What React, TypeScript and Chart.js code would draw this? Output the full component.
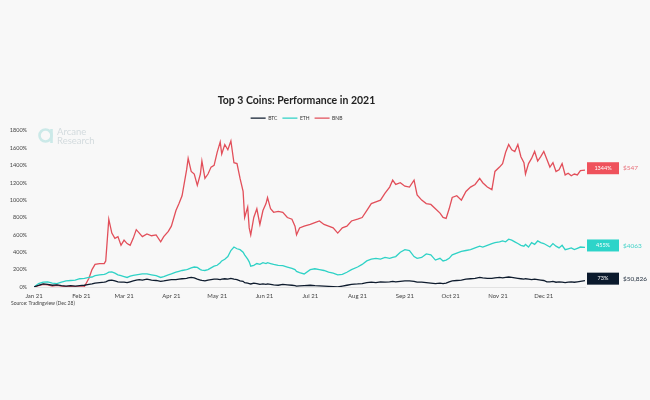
import React, { useEffect, useRef } from 'react';
import { Chart, registerables } from 'chart.js';

Chart.register(...registerables);

// Day offsets from Jan 1, 2021
const days = [
  0, 3, 6, 9, 12, 15, 18, 21, 24, 27,
  30, 33, 36, 38, 40, 43, 46, 47, 49, 51,
  53, 55, 57, 59, 61, 63, 65, 67, 69, 71,
  74, 77, 80, 83, 85, 88, 90, 93, 95, 97,
  100, 101, 103, 105, 107, 109, 110, 112, 114, 116,
  118, 120, 122, 123, 125, 127, 129, 131, 133, 135,
  137, 138, 140, 141, 142, 144, 146, 148, 150, 152,
  153, 155, 157, 160, 163, 166, 169, 171, 172, 174,
  177, 181, 184, 187, 190, 193, 196, 199, 202, 205,
  208, 212, 215, 218, 221, 224, 227, 230, 233, 235,
  237, 240, 243, 246, 249, 251, 254, 257, 260, 263,
  266, 268, 270, 272, 274, 277, 280, 283, 286, 289,
  292, 294, 297, 300, 302, 305, 307, 309, 311, 313,
  315, 317, 319, 321, 322, 324, 326, 328, 330, 332,
  334, 336, 338, 340, 342, 344, 346, 348, 350, 352,
  354, 356, 358, 361,
];

// Performance since Jan 1 (%)
const btc = [
  0, 20, 35, 30, 20, 25, 15, 10, 15, 10,
  15, 20, 30, 35, 45, 50, 55, 60, 75, 80,
  70, 60, 55, 55, 50, 60, 70, 80, 85, 80,
  90, 80, 75, 65, 70, 80, 85, 85, 90, 95,
  100, 105, 110, 105, 90, 80, 75, 70, 80, 85,
  90, 90, 85, 90, 95, 90, 100, 90, 85, 70,
  65, 50, 45, 40, 35, 45, 40, 30, 35, 30,
  35, 30, 25, 20, 30, 25, 20, 15, 10, 12,
  15, 20, 15, 12, 10, 8, 5, 0, 10, 20,
  30, 35, 40, 50, 55, 50, 60, 55, 60, 65,
  60, 65, 70, 70, 65, 55, 55, 50, 45, 40,
  45, 40, 45, 60, 70, 75, 80, 90, 95, 100,
  110, 105, 100, 100, 105, 110, 105, 110, 115, 110,
  105, 100, 95, 90, 95, 90, 85, 90, 85, 80,
  75, 60, 60, 65, 55, 60, 55, 50, 55, 60,
  55, 60, 65, 73,
];

const eth = [
  0, 40, 55, 60, 45, 40, 55, 70, 75, 80,
  95, 100, 110, 115, 130, 140, 145, 150, 170, 175,
  160, 140, 130, 120, 110, 125, 135, 140, 145, 150,
  150, 140, 130, 110, 120, 140, 150, 170, 180, 190,
  200, 205, 220, 230, 225, 200, 195, 190, 200, 220,
  240, 250, 280, 300, 320, 350, 420, 460, 440, 430,
  400, 370, 320, 290, 240, 250, 270, 260, 280, 270,
  280, 270, 260, 250, 245, 230, 215, 200, 180, 165,
  150, 200, 210, 200, 190, 170, 160, 140, 145, 170,
  200, 230, 260, 300, 320, 330, 320, 340, 330, 340,
  350, 400, 430, 420, 350, 330, 340, 380, 370, 310,
  330, 300, 310, 330, 370, 390, 410, 420, 430, 450,
  470, 460, 480, 500, 510, 520, 530, 520, 550, 540,
  520, 500, 480, 470, 490, 460, 510, 490, 530, 510,
  500, 480, 460, 500, 470, 450, 480, 430, 440, 450,
  430, 445, 460, 455,
];

const bnb = [
  0, 15, 30, 25, 10, 20, 10, 5, 10, 5,
  0, 5, 100, 200, 260, 270, 270, 300, 780, 620,
  560, 580, 480, 540, 500, 480, 560, 660, 620, 580,
  610, 590, 600, 520, 580, 640, 700, 880, 960, 1050,
  1350, 1480, 1330, 1300, 1170, 1300, 1450, 1250, 1300, 1380,
  1400, 1550, 1670, 1530, 1640, 1580, 1680, 1430, 1420, 1250,
  1100, 800, 920, 680, 600, 800, 900, 720, 880, 960,
  1030, 900, 860, 870, 860, 800, 780, 700, 600, 680,
  700, 720, 740, 760, 720, 700, 680, 620, 680, 700,
  760, 780, 800, 880, 960, 980, 1000, 1080, 1150, 1230,
  1180, 1200, 1160, 1150, 1230, 1060, 1000, 960, 950, 900,
  850, 800, 790, 900, 1030, 1050, 1000, 1100, 1150, 1180,
  1250, 1200, 1150, 1120, 1330, 1380, 1420, 1550, 1640, 1580,
  1560, 1640, 1500, 1430, 1300, 1420, 1480, 1560, 1450, 1500,
  1560, 1470, 1380, 1430, 1330, 1350, 1420, 1290, 1310, 1280,
  1300, 1290, 1340, 1344,
];

const monthDays = [0, 31, 59, 90, 120, 151, 181, 212, 243, 273, 304, 334];
const monthLabels = ['Jan 21', 'Feb 21', 'Mar 21', 'Apr 21', 'May 21', 'Jun 21', 'Jul 21', 'Aug 21', 'Sep 21', 'Oct 21', 'Nov 21', 'Dec 21'];
const seriesNames = ['BTC', 'ETH', 'BNB'];
const endPct = ['73%', '455%', '1344%'];
const endPrice = ['$50,826', '$4063', '$547'];
const titleText = 'Top 3 Coins: Performance in 2021';
const sourceText = 'Source: Tradingview (Dec 28)';

const lineColors = ['#0f1c2e', '#2fd2c6', '#e24f5a'];
const boxColors = ['#0b1a2d', '#2dd4c9', '#ef525c'];
const priceColors = ['#1d2a3a', '#45d3c9', '#e8707a'];
const FONT = 'Lato, "Open Sans", "Noto Sans", sans-serif';

const decorPlugin = {
  id: 'decor',
  beforeDraw(chart: any) {
    const { ctx, width, height } = chart;
    ctx.save();
    ctx.fillStyle = '#f8f8f8';
    ctx.fillRect(0, 0, width, height);
    ctx.restore();
  },
  afterDraw(chart: any) {
    const { ctx, chartArea, scales } = chart;
    ctx.save();
    // watermark logo
    ctx.strokeStyle = '#cbe9e8';
    ctx.lineWidth = 2.6;
    ctx.beginPath();
    ctx.arc(45.5, 135.5, 6, 0, Math.PI * 2);
    ctx.stroke();
    ctx.beginPath();
    ctx.moveTo(51.5, 129);
    ctx.lineTo(51.5, 143);
    ctx.stroke();
    ctx.fillStyle = '#d3dbde';
    ctx.font = `9.5px ${FONT}`;
    ctx.textBaseline = 'middle';
    ctx.textAlign = 'left';
    ctx.fillText('Arcane', 57, 131.5);
    ctx.fillText('Research', 57, 140.5);

    // source
    ctx.fillStyle = '#444';
    ctx.font = `5px ${FONT}`;
    ctx.fillText(sourceText, 11, 303);

    // end labels
    chart.data.datasets.forEach((ds: any, i: number) => {
      const last = ds.data[ds.data.length - 1];
      const y = scales.y.getPixelForValue(last.y) - 2;
      const x0 = chartArea.right + 2;
      ctx.fillStyle = boxColors[i];
      ctx.fillRect(x0, y - 6, 32, 12);
      ctx.fillStyle = '#ffffff';
      ctx.font = `5.5px ${FONT}`;
      ctx.textAlign = 'center';
      ctx.fillText(endPct[i], x0 + 16, y);
      ctx.fillStyle = priceColors[i];
      ctx.font = `6.5px ${FONT}`;
      ctx.textAlign = 'left';
      ctx.fillText(endPrice[i], x0 + 36, y);
    });
    ctx.restore();
  },
};

export default function App() {
  const ref = useRef<HTMLCanvasElement>(null);
  useEffect(() => {
    if (!ref.current) return;
    const series = [btc, eth, bnb];
    const chart = new Chart(ref.current, {
      type: 'line',
      data: {
        datasets: series.map((s, i) => ({
          label: seriesNames[i],
          data: days.map((d, j) => ({ x: d, y: s[j] })),
          borderColor: lineColors[i],
          backgroundColor: lineColors[i],
          borderWidth: 1.3,
          pointRadius: 0,
          tension: 0,
          fill: false,
        })),
      },
      options: {
        responsive: false,
        animation: false,
        layout: { padding: { left: 8, right: 65, top: 0, bottom: 99 } },
        plugins: {
          title: {
            display: true,
            text: titleText,
            color: '#222',
            font: { family: FONT, size: 10.5, weight: 'bold' },
            padding: { top: 94, bottom: 4 },
          },
          legend: {
            display: true,
            labels: {
              usePointStyle: true,
              pointStyle: 'line',
              pointStyleWidth: 15,
              color: '#333',
              font: { family: FONT, size: 5 },
              padding: 5,
            },
          },
          tooltip: { enabled: false },
        },
        scales: {
          x: {
            type: 'linear',
            min: 0,
            max: 361,
            afterBuildTicks: (axis: any) => {
              axis.ticks = monthDays.map((v) => ({ value: v }));
            },
            afterFit: (scale: any) => {
              scale.height = 14;
            },
            grid: { display: false, drawTicks: false },
            border: { display: true, color: '#e2e2e2' },
            ticks: {
              autoSkip: false,
              maxRotation: 0,
              padding: 5,
              color: '#444',
              font: { family: FONT, size: 6 },
              callback: (v: any) => {
                const k = monthDays.indexOf(Number(v));
                return k >= 0 ? monthLabels[k] : '';
              },
            },
          },
          y: {
            min: 0,
            max: 1800,
            afterFit: (scale: any) => {
              scale.width = 26;
            },
            grid: { display: false, drawTicks: false },
            border: { display: false },
            ticks: {
              stepSize: 200,
              padding: 7,
              color: '#444',
              font: { family: FONT, size: 5.5 },
              callback: (v: any) => `${v}%`,
            },
          },
        },
      },
      plugins: [decorPlugin],
    } as any);
    return () => chart.destroy();
  }, []);
  return (
    <div style={{ position: 'absolute', left: 0, top: 0, width: 650, height: 400, background: '#f8f8f8' }}>
      <canvas ref={ref} width={650} height={400} style={{ display: 'block' }} />
    </div>
  );
}
